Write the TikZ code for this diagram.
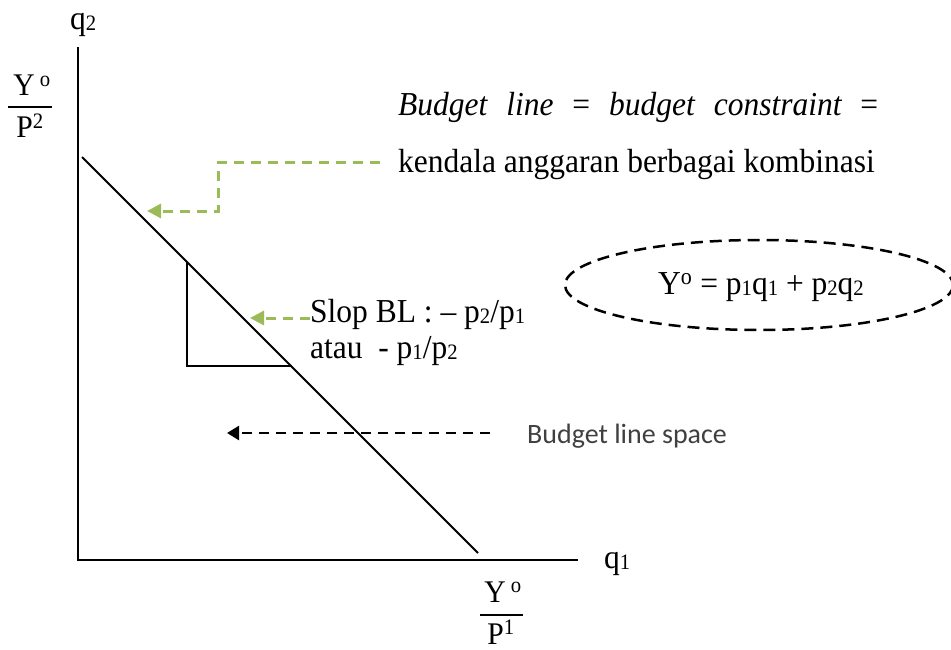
\documentclass[tikz,border=0pt]{standalone}
\usepackage{fontspec}
\setmainfont[FakeStretch=0.94]{Liberation Serif}
\newfontfamily\calfont{Carlito}
\usetikzlibrary{arrows.meta}
\definecolor{olivegreen}{HTML}{9BBB59}
\definecolor{greytext}{HTML}{404040}
\newcommand\dlo[1]{\raisebox{-1pt}{\fontsize{22}{22}\selectfont #1}}
\begin{document}
\begin{tikzpicture}[x=1pt,y=-1pt,
  txt/.style={inner sep=0pt,anchor=base west,font=\fontsize{33.5}{38}\selectfont},
  ctxt/.style={inner sep=0pt,anchor=base,font=\fontsize{31.5}{36}\selectfont},
  axis/.style={line width=2.2pt},
  bline/.style={line width=1.8pt},
  garrow/.style={olivegreen,line width=3pt,dash pattern=on 10pt off 7pt,-{Triangle[length=14pt,width=14pt]}},
  karrow/.style={black,line width=2.5pt,dash pattern=on 10pt off 7pt,-{Triangle[length=12pt,width=14pt]}}]
\useasboundingbox (0,0) rectangle (951,650);
% axes
\coordinate (O) at (78,560);
\coordinate (ytop) at (78,47);
\coordinate (xend) at (578,560);
\draw[axis] (ytop) -- (O) -- (xend);
\node[txt] (q2) at (70,30) {q\dlo{2}};
\node[txt] (q1) at (604,568) {q\dlo{1}};
% fraction Y/P2
\node[ctxt] (fy2) at (32,96) {Y\textsuperscript{ o}};
\draw[line width=1.3pt] (8,107) -- (52,107);
\node[ctxt] (fp2) at (30,138) {P\textsuperscript{2}};
% fraction Y/P1
\node[ctxt] (fy1) at (503,602) {Y\textsuperscript{ o}};
\draw[line width=1.3pt] (480,615) -- (523,615);
\node[ctxt] (fp1) at (501,644) {P\textsuperscript{1}};
% budget line
\coordinate (bl1) at (82,157);
\coordinate (bl2) at (478,553);
\draw[bline] (bl1) -- (bl2);
% slope triangle
\coordinate (t1) at (187,262);
\coordinate (t2) at (187,366);
\coordinate (t3) at (292,366);
\draw[line width=1.6pt] (t1) -- (t2) -- (t3);
% texts
\node[txt] (bl) at (398,116) {\hbox to 480pt{\itshape Budget\hfill line\hfill \upshape=\hfill \itshape budget\hfill constraint\hfill \upshape=}};
\node[txt] (kend) at (398,172) {kendala anggaran berbagai kombinasi};
\node[txt] (slop) at (310,322) {Slop BL : – p\dlo{2}/p\dlo{1}};
\node[txt] (atau) at (310,358) {atau\ \ - p\dlo{1}/p\dlo{2}};
\node[ctxt,font=\fontsize{33.5}{38}\selectfont] (eq) at (761,294) {Y\textsuperscript{o} = p\dlo{1}q\dlo{1} + p\dlo{2}q\dlo{2}};
\node[inner sep=0pt,anchor=base west,font=\calfont\fontsize{28}{32}\selectfont,text=greytext] (space) at (527,443) {Budget line space};
% ellipse
\draw[line width=2.5pt,dash pattern=on 12pt off 7pt] (759,285) ellipse [x radius=194, y radius=45];
% arrows
\coordinate (g1start) at (380,163);
\coordinate (g1a) at (218,163);
\coordinate (g1b) at (218,211);
\coordinate (g1tip) at (147,211);
\draw[garrow] (g1start) -- (g1a) -- (g1b) -- (g1tip);
\coordinate (g2tip) at (250,318);
\draw[garrow] (slop.west |- 0,318) -- (g2tip);
\coordinate (kstart) at (490,433);
\coordinate (ktip) at (227,433);
\draw[karrow] (kstart) -- (ktip);
\end{tikzpicture}
\end{document}
